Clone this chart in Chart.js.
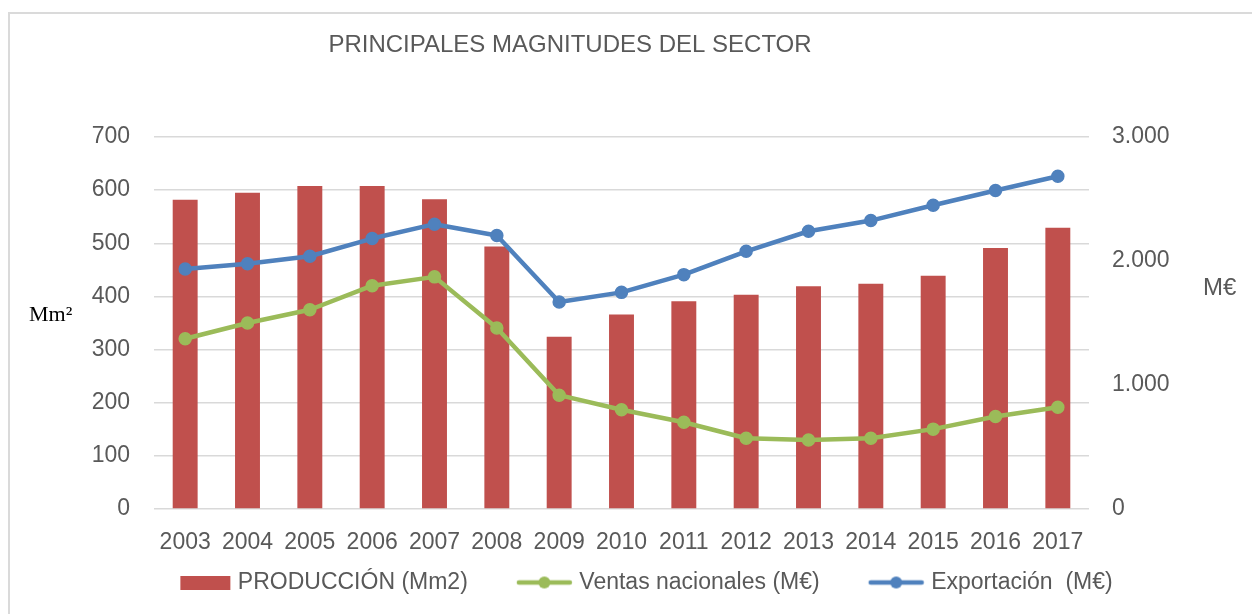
<!DOCTYPE html>
<html>
<head>
<meta charset="utf-8">
<script src="https://cdn.jsdelivr.net/npm/chart.js@4/dist/chart.umd.min.js"></script>
<style>
  html, body { margin: 0; padding: 0; background: #fff; overflow: hidden; }
  #frame {
    position: absolute; left: 8px; top: 12px;
    width: 1400px; height: 800px;
    border-left: 2px solid #dadada; border-top: 2px solid #dadada;
  }
  #chart { position: absolute; left: 0; top: 0; }
</style>
</head>
<body>
<div id="frame"></div>
<canvas id="chart" width="1252" height="614"></canvas>
<script>
// Data
const years = ['2003', '2004', '2005', '2006', '2007', '2008', '2009', '2010',
  '2011', '2012', '2013', '2014', '2015', '2016', '2017'];
const produccion = [582, 595, 608, 608, 583, 494, 324, 366, 391, 403, 419, 424, 439, 491, 529];
const ventasNacionales = [1373, 1500, 1607, 1801, 1872, 1460, 918, 800, 700, 571, 557, 571, 644, 746, 821];
const exportacion = [1936, 1977, 2038, 2181, 2297, 2205, 1670, 1747, 1890, 2078, 2240, 2326, 2450, 2569, 2684];

const leftTicks = [0, 100, 200, 300, 400, 500, 600, 700];
const rightTicks = [0, 1000, 2000, 3000];

const RED = '#C0504D';
const GREEN = '#9BBB59';
const BLUE = '#4F81BD';
const TEXT = '#595959';
const GRID = '#D9D9D9';
const FONT = "'Liberation Sans', Arial, sans-serif";

// spanish thousands separator: 3000 -> 3.000
function formatMiles(v) {
  return String(v).replace(/\B(?=(\d{3})+(?!\d))/g, '.');
}

// legend symbols, drawn at the right end of a wider transparent box
// so the gaps between items look like the original
const SYM_BOX = 87;
const SYM_W = 97;

function barSymbol(color) {
  const c = document.createElement('canvas');
  c.width = SYM_W;
  c.height = 14;
  const ctx = c.getContext('2d');
  ctx.fillStyle = color;
  ctx.fillRect(SYM_W - 51, 0, 50, 14);
  return c;
}

function lineSymbol(color) {
  const c = document.createElement('canvas');
  c.width = SYM_W;
  c.height = 14;
  const ctx = c.getContext('2d');
  const x0 = SYM_W - 57;
  ctx.strokeStyle = color;
  ctx.lineWidth = 4.5;
  ctx.lineCap = 'round';
  ctx.beginPath();
  ctx.moveTo(x0 + 3, 7);
  ctx.lineTo(x0 + 54, 7);
  ctx.stroke();
  ctx.fillStyle = color;
  ctx.beginPath();
  ctx.arc(x0 + 28.5, 7, 6, 0, Math.PI * 2);
  ctx.fill();
  return c;
}

// title and axis captions placed like the original
const captions = {
  id: 'captions',
  afterDraw(chart) {
    const ctx = chart.ctx;
    const area = chart.chartArea;
    ctx.save();
    ctx.textBaseline = 'middle';

    ctx.fillStyle = TEXT;
    ctx.font = `24px ${FONT}`;
    ctx.textAlign = 'center';
    ctx.fillText('PRINCIPALES MAGNITUDES DEL SECTOR', 570, 45);

    ctx.fillStyle = '#000';
    ctx.font = "22px 'Liberation Serif', 'Times New Roman', serif";
    ctx.textAlign = 'left';
    ctx.fillText('Mm²', 29, 315);

    ctx.fillStyle = TEXT;
    ctx.font = `24px ${FONT}`;
    ctx.fillText('M€', area.right + 114, 288);
    ctx.restore();
  }
};

const ctx = document.getElementById('chart').getContext('2d');
new Chart(ctx, {
  data: {
    labels: years,
    datasets: [{
      type: 'bar',
      label: 'PRODUCCIÓN (Mm2)',
      data: produccion,
      backgroundColor: RED,
      yAxisID: 'y',
      categoryPercentage: 1,
      barPercentage: 0.4,
      order: 2
    }, {
      type: 'line',
      label: 'Ventas nacionales (M€)',
      data: ventasNacionales,
      borderColor: GREEN,
      backgroundColor: GREEN,
      borderWidth: 4.5,
      borderCapStyle: 'round',
      borderJoinStyle: 'round',
      tension: 0,
      pointRadius: 6,
      pointBorderWidth: 1.5,
      pointBackgroundColor: GREEN,
      pointBorderColor: GREEN,
      yAxisID: 'y1',
      order: 1
    }, {
      type: 'line',
      label: 'Exportación  (M€)',
      data: exportacion,
      borderColor: BLUE,
      backgroundColor: BLUE,
      borderWidth: 4.5,
      borderCapStyle: 'round',
      borderJoinStyle: 'round',
      tension: 0,
      pointRadius: 6,
      pointBorderWidth: 1.5,
      pointBackgroundColor: BLUE,
      pointBorderColor: BLUE,
      yAxisID: 'y1',
      order: 0
    }]
  },
  options: {
    responsive: false,
    animation: false,
    devicePixelRatio: 1,
    layout: {
      padding: { top: 137, bottom: 10, left: 0, right: 0 }
    },
    scales: {
      x: {
        grid: { display: false, drawTicks: false },
        border: { display: false },
        ticks: {
          color: TEXT,
          font: { family: FONT, size: 23 },
          padding: 20,
          maxRotation: 0,
          autoSkip: false
        },
        // labels are clipped to the axis box, keep it tall enough for them
        afterFit(scale) { scale.height = 49; }
      },
      y: {
        position: 'left',
        min: 0,
        max: 700,
        afterBuildTicks(scale) { scale.ticks = leftTicks.map(v => ({ value: v })); },
        grid: { color: GRID, lineWidth: 1.5, drawTicks: false },
        border: { display: false },
        ticks: {
          color: TEXT,
          font: { family: FONT, size: 23 },
          padding: 24
        },
        afterFit(scale) { scale.width = 154; }
      },
      y1: {
        position: 'right',
        min: 0,
        max: 3000,
        afterBuildTicks(scale) { scale.ticks = rightTicks.map(v => ({ value: v })); },
        grid: { display: false, drawTicks: false },
        border: { display: false },
        ticks: {
          color: TEXT,
          font: { family: FONT, size: 23 },
          padding: 23,
          callback: v => formatMiles(v)
        },
        afterFit(scale) { scale.width = 163; }
      }
    },
    plugins: {
      title: { display: false },
      tooltip: { enabled: false },
      legend: {
        position: 'bottom',
        labels: {
          color: TEXT,
          font: { family: FONT, size: 23 },
          padding: 13,
          usePointStyle: true,
          pointStyleWidth: SYM_BOX,
          sort: (a, b) => a.datasetIndex - b.datasetIndex,
          generateLabels(chart) {
            const items = Chart.defaults.plugins.legend.labels.generateLabels(chart);
            items.forEach(item => {
              const ds = chart.data.datasets[item.datasetIndex];
              item.pointStyle = ds.type === 'line' ? lineSymbol(ds.borderColor) : barSymbol(ds.backgroundColor);
            });
            return items;
          }
        }
      }
    }
  },
  plugins: [captions]
});
</script>
</body>
</html>
